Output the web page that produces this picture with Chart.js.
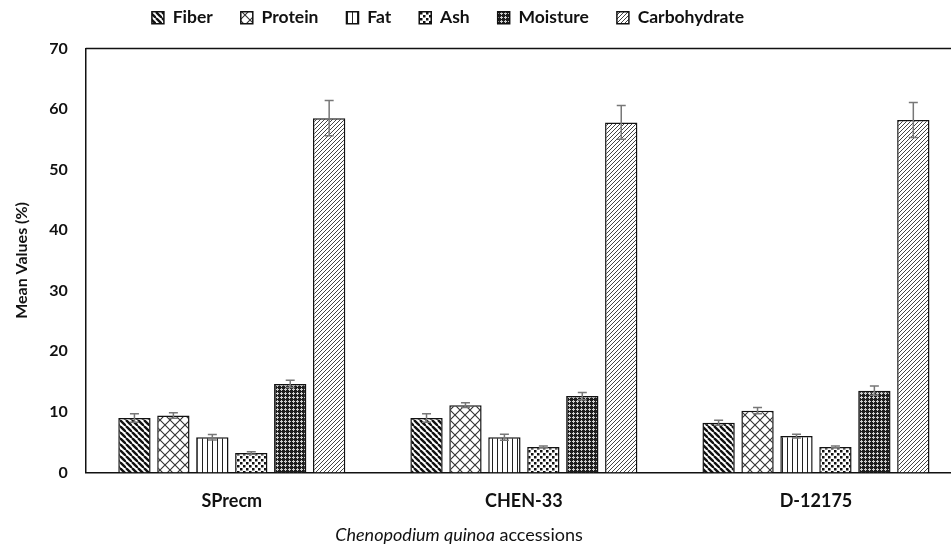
<!DOCTYPE html>
<html>
<head>
<meta charset="utf-8">
<script src="https://cdn.jsdelivr.net/npm/chart.js@4.4.0/dist/chart.umd.min.js"></script>
<style>
  html, body { margin: 0; padding: 0; background: #fff; }
  #wrap { width: 951px; height: 550px; overflow: hidden; }
</style>
</head>
<body>
<div id="wrap"><canvas id="proxChart" width="963" height="550"></canvas></div>
<script>
// accessions and proximate composition (mean %, with error)
const categories = ['SPrecm', 'CHEN-33', 'D-12175'];
const fiber = [9.0, 9.0, 8.2];
const fiberErr = [0.7, 0.7, 0.4];
const protein = [9.4, 11.1, 10.2];
const proteinErr = [0.45, 0.4, 0.5];
const fat = [5.8, 5.8, 6.0];
const fatErr = [0.45, 0.5, 0.3];
const ash = [3.2, 4.2, 4.2];
const ashErr = [0.2, 0.15, 0.15];
const moisture = [14.6, 12.6, 13.5];
const moistureErr = [0.6, 0.6, 0.75];
const carbohydrate = [58.5, 57.8, 58.2];
const carbohydrateErr = [2.9, 2.8, 2.9];
const yTicks = [0, 10, 20, 30, 40, 50, 60, 70];

const FONT = 'Lato, "Open Sans", sans-serif';

// small tiles used as hatch fills
function makePattern(size, draw) {
    const c = document.createElement('canvas');
    c.width = size; c.height = size;
    const g = c.getContext('2d');
    g.fillStyle = '#fff';
    g.fillRect(0, 0, size, size);
    draw(g, size);
    return g.createPattern(c, 'repeat');
}

const hatch = {
    fiber: makePattern(6, function (g, s) {
        g.strokeStyle = '#111'; g.lineWidth = 2.4;
        for (let x = -s; x <= s; x += s) {
            g.beginPath(); g.moveTo(x, 0); g.lineTo(x + s, s); g.stroke();
        }
    }),
    protein: makePattern(10, function (g, s) {
        g.strokeStyle = '#333'; g.lineWidth = 1.1;
        g.beginPath();
        g.moveTo(0, 0); g.lineTo(s, s);
        g.moveTo(s, 0); g.lineTo(0, s);
        g.stroke();
    }),
    fat: makePattern(5, function (g, s) {
        g.fillStyle = '#222';
        g.fillRect(2, 0, 1, s);
    }),
    ash: makePattern(6, function (g, s) {
        g.fillStyle = '#111';
        g.fillRect(0, 0, 2.5, 2.5);
        g.fillRect(3, 3, 2.5, 2.5);
    }),
    moisture: makePattern(4, function (g, s) {
        g.fillStyle = '#1e1e1e';
        g.fillRect(0, 0, s, s);
        g.fillStyle = '#cfcfcf';
        g.fillRect(1, 0, 1, 3);
        g.fillRect(0, 1, 3, 1);
    }),
    carbohydrate: makePattern(4, function (g, s) {
        g.strokeStyle = '#444'; g.lineWidth = 1;
        for (let x = -s; x <= s; x += s) {
            g.beginPath(); g.moveTo(x, s); g.lineTo(x + s, 0); g.stroke();
        }
    })
};

function series(label, data, errors, fill) {
    return {
        label: label,
        data: data,
        errors: errors,
        backgroundColor: fill,
        borderColor: '#111',
        borderWidth: 1.5,
        barPercentage: 0.83,
        categoryPercentage: 0.8
    };
}

// symmetric error bars on every bar
const errorBars = {
    id: 'errorBars',
    afterDatasetsDraw(chart) {
        const ctx = chart.ctx;
        const y = chart.scales.y;
        ctx.save();
        ctx.strokeStyle = '#777';
        ctx.lineWidth = 1.5;
        chart.data.datasets.forEach(function (ds, i) {
            chart.getDatasetMeta(i).data.forEach(function (bar, j) {
                const top = y.getPixelForValue(ds.data[j] + ds.errors[j]);
                const bot = y.getPixelForValue(ds.data[j] - ds.errors[j]);
                ctx.beginPath();
                ctx.moveTo(bar.x, top); ctx.lineTo(bar.x, bot);
                ctx.moveTo(bar.x - 4.5, top); ctx.lineTo(bar.x + 4.5, top);
                ctx.moveTo(bar.x - 4.5, bot); ctx.lineTo(bar.x + 4.5, bot);
                ctx.stroke();
            });
        });
        ctx.restore();
    }
};

// top edge of the plot frame, legend placement and the mixed-style x title
const frame = {
    id: 'frame',
    afterLayout(chart) {
        const lg = chart.legend;
        lg.left -= 37; lg.right -= 37;
        lg.top -= 12; lg.bottom -= 12;
    },
    beforeDatasetsDraw(chart) {
        const a = chart.chartArea;
        const ctx = chart.ctx;
        ctx.save();
        ctx.strokeStyle = '#111';
        ctx.lineWidth = 1.5;
        ctx.beginPath();
        ctx.moveTo(a.left, a.top); ctx.lineTo(a.right, a.top);
        ctx.stroke();
        ctx.restore();
    },
    afterDraw(chart) {
        const ctx = chart.ctx;
        const part1 = 'Chenopodium quinoa';
        const part2 = ' accessions';
        ctx.save();
        ctx.fillStyle = '#111';
        ctx.textBaseline = 'alphabetic';
        ctx.font = 'italic 18px ' + FONT;
        const w1 = ctx.measureText(part1).width;
        ctx.font = '18px ' + FONT;
        const w2 = ctx.measureText(part2).width;
        const x0 = 459 - (w1 + w2) / 2;
        ctx.font = 'italic 18px ' + FONT;
        ctx.fillText(part1, x0, 541);
        ctx.font = '18px ' + FONT;
        ctx.fillText(part2, x0 + w1, 541);
        ctx.restore();
    }
};

new Chart(document.getElementById('proxChart'), {
    type: 'bar',
    data: {
        labels: categories,
        datasets: [
            series('Fiber', fiber, fiberErr, hatch.fiber),
            series('Protein', protein, proteinErr, hatch.protein),
            series('Fat', fat, fatErr, hatch.fat),
            series('Ash', ash, ashErr, hatch.ash),
            series('Moisture', moisture, moistureErr, hatch.moisture),
            series('Carbohydrate', carbohydrate, carbohydrateErr, hatch.carbohydrate)
        ]
    },
    options: {
        responsive: false,
        animation: false,
        layout: {
            padding: { left: 8, right: 1, top: -7, bottom: 20 }
        },
        plugins: {
            legend: {
                position: 'top',
                labels: {
                    boxWidth: 12,
                    boxHeight: 12,
                    padding: 28,
                    color: '#111',
                    font: { family: FONT, size: 17.5, weight: 'bold' }
                }
            },
            tooltip: { enabled: false }
        },
        scales: {
            x: {
                grid: { display: false, drawTicks: false },
                border: { display: true, color: '#111', width: 1.5 },
                ticks: {
                    color: '#111',
                    padding: 18,
                    font: { family: FONT, size: 18, weight: 'bold' }
                }
            },
            y: {
                min: 0,
                max: 70,
                afterBuildTicks: function (axis) {
                    axis.ticks = yTicks.map(function (v) { return { value: v }; });
                },
                grid: { display: false, drawTicks: false },
                border: { display: true, color: '#111', width: 1.5 },
                ticks: {
                    color: '#111',
                    padding: 18,
                    font: { family: FONT, size: 16, weight: 'bold' }
                },
                title: {
                    display: true,
                    text: 'Mean Values (%)',
                    color: '#111',
                    padding: { top: 4, bottom: 0 },
                    font: { family: FONT, size: 16, weight: 'bold' }
                }
            }
        }
    },
    plugins: [errorBars, frame]
});
</script>
</body>
</html>
